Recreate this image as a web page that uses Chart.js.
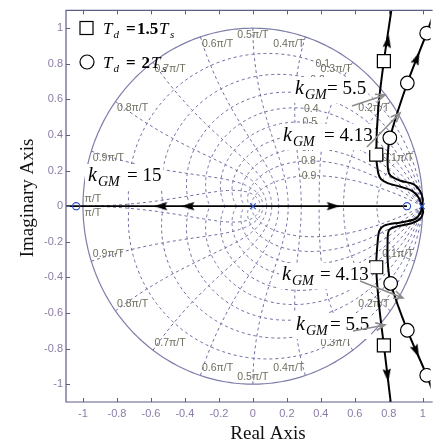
<!DOCTYPE html>
<html>
<head>
<meta charset="utf-8">
<script src="https://cdn.jsdelivr.net/npm/chart.js@4"></script>
<style>
  html, body { margin: 0; padding: 0; background: #ffffff; }
  #wrap { width: 441px; height: 442px; }
</style>
</head>
<body>
<div id="wrap"><canvas id="rl" width="441" height="442"></canvas></div>
<script>
// ---- axis ticks ----
const xTicks = [-1, -0.8, -0.6, -0.4, -0.2, 0, 0.2, 0.4, 0.6, 0.8, 1];
const xTickLabels = ['-1', '-0.8', '-0.6', '-0.4', '-0.2', '0', '0.2', '0.4', '0.6', '0.8', '1'];
const yTicks = [-1, -0.8, -0.6, -0.4, -0.2, 0, 0.2, 0.4, 0.6, 0.8, 1];
const yTickLabels = ['-1', '-0.8', '-0.6', '-0.4', '-0.2', '0', '0.2', '0.4', '0.6', '0.8', '1'];

// ---- z-plane grid: damping ratios and natural frequencies (multiples of pi/(10T)) ----
const dampingRatios = [0.1, 0.2, 0.3, 0.4, 0.5, 0.6, 0.7, 0.8, 0.9];
const dampingLabels = ['0.1', '0.2', '0.3', '0.4', '0.5', '0.6', '0.7', '0.8', '0.9'];
const naturalFreqSteps = [1, 2, 3, 4, 5, 6, 7, 8, 9, 10];
const naturalFreqLabels = ['0.1π/T', '0.2π/T', '0.3π/T', '0.4π/T', '0.5π/T', '0.6π/T', '0.7π/T', '0.8π/T', '0.9π/T', 'π/T'];

// ---- open-loop poles and zeros ----
const polesRe = [0, 0.995];
const polesIm = [0, 0];
const zerosRe = [0.907, -1.04];
const zerosIm = [0, 0];

// ---- real-axis branch ----
const realBranchRe = [-1.1, 0.907];
const realBranchIm = [0, 0];

// ---- Td = 1.5Ts branches ----
const sqUpperRe = [0.995, 0.975, 0.935, 0.869, 0.793, 0.754, 0.737, 0.726, 0.738, 0.771, 0.815];
const sqUpperIm = [0, 0.049, 0.087, 0.109, 0.130, 0.152, 0.189, 0.290, 0.550, 0.815, 1.100];
const sqLowerRe = [0.995, 0.987, 0.954, 0.869, 0.773, 0.745, 0.735, 0.726, 0.743, 0.771, 0.811];
const sqLowerIm = [0, -0.035, -0.072, -0.091, -0.109, -0.137, -0.193, -0.343, -0.560, -0.782, -1.100];
const sqMarkRe = [0.771, 0.726, 0.726, 0.771];
const sqMarkIm = [0.815, 0.290, -0.343, -0.782];

// ---- Td = 2Ts branches ----
const ciUpperRe = [0.995, 1.000, 0.983, 0.945, 0.869, 0.811, 0.795, 0.795, 0.806, 0.909, 1.023, 1.070];
const ciUpperIm = [0, 0.040, 0.087, 0.124, 0.143, 0.171, 0.208, 0.300, 0.384, 0.692, 0.972, 1.100];
const ciLowerRe = [0.995, 1.002, 0.983, 0.935, 0.850, 0.802, 0.793, 0.795, 0.811, 0.909, 1.023, 1.070];
const ciLowerIm = [0, -0.035, -0.072, -0.096, -0.113, -0.133, -0.193, -0.330, -0.434, -0.697, -0.950, -1.070];
const ciMarkRe = [1.023, 0.909, 0.806, 0.811, 0.909, 1.023];
const ciMarkIm = [0.972, 0.692, 0.384, -0.434, -0.697, -0.950];

// ---- direction arrows along the loci ----
const arrowRe = [0.794, 0.966, 0.792, 0.962, -0.543, -0.383, 0.474];
const arrowIm = [0.927, 0.832, -0.950, -0.815, 0, 0, 0];
const arrowAngles = [9, 22, 173, 156, 270, 270, 90];

// ---- gain-margin annotations ----
const kgmValues = ['15', '5.5', '4.13', '4.13', '5.5'];

const pts = (re, im) => re.map((v, i) => ({ x: v, y: im[i] }));

// arrowhead glyph used as a point style
const arrowGlyph = (() => {
  const c = document.createElement('canvas');
  c.width = 14; c.height = 14;
  const g = c.getContext('2d');
  g.fillStyle = '#000';
  g.beginPath();
  g.moveTo(7, 0.5);
  g.lineTo(11.2, 13.5);
  g.lineTo(7, 11.5);
  g.lineTo(2.8, 13.5);
  g.closePath();
  g.fill();
  return c;
})();

const SERIF = '"Liberation Serif", "Times New Roman", serif';
const SANS = '"Liberation Sans", Arial, sans-serif';
const GRID_COLOR = '#6c6ca2';
const CIRCLE_COLOR = '#7e7eaa';
const GRID_TEXT = '#6f6f5e';
const FRAME = '#5c5c88';
const TICK_TEXT = '#8a7ca6';

const zgridPlugin = {
  id: 'zgrid',
  beforeDatasetsDraw(chart) {
    const { ctx, chartArea: a, scales: { x: sx, y: sy } } = chart;
    const P = (re, im) => [sx.getPixelForValue(re), sy.getPixelForValue(im)];
    const path = list => {
      ctx.beginPath();
      list.forEach(([re, im], i) => {
        const [px, py] = P(re, im);
        if (i) ctx.lineTo(px, py); else ctx.moveTo(px, py);
      });
      ctx.stroke();
    };
    ctx.save();
    ctx.beginPath();
    ctx.rect(a.left, a.top, a.right - a.left, a.bottom - a.top);
    ctx.clip();

    ctx.strokeStyle = GRID_COLOR;
    ctx.lineWidth = 1;
    ctx.setLineDash([3, 3]);
    // constant damping ratio spirals
    dampingRatios.forEach(z => {
      const wd = Math.sqrt(1 - z * z);
      [1, -1].forEach(s => {
        const list = [];
        for (let i = 0; i <= 160; i++) {
          const th = Math.PI * i / 160;
          const r = Math.exp(-z * th / wd);
          list.push([r * Math.cos(th), s * r * Math.sin(th)]);
        }
        path(list);
      });
    });
    // constant natural frequency curves
    naturalFreqSteps.forEach(k => {
      const wn = k * Math.PI / 10;
      [1, -1].forEach(s => {
        const list = [];
        for (let i = 0; i <= 80; i++) {
          const phi = (Math.PI / 2) * i / 80;
          const z = Math.sin(phi);
          const r = Math.exp(-z * wn);
          const th = wn * Math.cos(phi);
          list.push([r * Math.cos(th), s * r * Math.sin(th)]);
        }
        path(list);
      });
    });

    // unit circle
    ctx.setLineDash([]);
    ctx.strokeStyle = CIRCLE_COLOR;
    ctx.lineWidth = 1.2;
    const circ = [];
    for (let i = 0; i <= 360; i++) {
      const th = 2 * Math.PI * i / 360;
      circ.push([Math.cos(th), Math.sin(th)]);
    }
    path(circ);

    // grid labels
    ctx.fillStyle = GRID_TEXT;
    ctx.font = '10.5px ' + SANS;
    ctx.textBaseline = 'middle';
    naturalFreqSteps.forEach((k, i) => {
      const th = k * Math.PI / 10;
      const [ux, uy] = P(Math.cos(th), Math.sin(th));
      const [lx, ly] = P(Math.cos(th), -Math.sin(th));
      let dx = 0;
      if (k < 5) { ctx.textAlign = 'right'; dx = -1; }
      else if (k === 5) { ctx.textAlign = 'center'; }
      else { ctx.textAlign = 'left'; dx = 1.5; }
      if (k === 10) {
        ctx.fillText(naturalFreqLabels[i], ux + dx, uy - 7);
        ctx.fillText(naturalFreqLabels[i], lx + dx, ly + 7);
      } else {
        ctx.fillText(naturalFreqLabels[i], ux + dx, uy + 7);
        ctx.fillText(naturalFreqLabels[i], lx + dx, ly - 7);
      }
    });
    ctx.textAlign = 'center';
    dampingRatios.forEach((z, i) => {
      const w = 0.35 * Math.PI;
      const r = Math.exp(-z * w);
      const th = w * Math.sqrt(1 - z * z);
      const [px, py] = P(r * Math.cos(th), r * Math.sin(th));
      ctx.fillText(dampingLabels[i], px, py);
    });
    ctx.restore();
  },

  afterDatasetsDraw(chart) {
    const { ctx } = chart;
    ctx.save();

    // legend
    ctx.strokeStyle = '#000';
    ctx.fillStyle = '#fff';
    ctx.lineWidth = 1.2;
    ctx.fillRect(80, 21.5, 13, 13);
    ctx.strokeRect(80, 21.5, 13, 13);
    ctx.beginPath();
    ctx.arc(87, 62, 7, 0, Math.PI * 2);
    ctx.fill();
    ctx.stroke();
    ctx.fillStyle = '#000';
    ctx.textBaseline = 'alphabetic';
    ctx.textAlign = 'left';
    const legendRow = (y, num, numX, tX) => {
      ctx.font = 'italic 17px ' + SERIF;
      ctx.fillText('T', 103, y);
      ctx.font = 'italic 11px ' + SERIF;
      ctx.fillText('d', 113.5, y + 4);
      ctx.font = 'bold 17px ' + SERIF;
      ctx.fillText('=', 126, y);
      ctx.fillText(num, numX, y);
      ctx.font = 'italic 17px ' + SERIF;
      ctx.fillText('T', tX, y);
      ctx.font = 'italic 11px ' + SERIF;
      ctx.fillText('s', tX + 11, y + 4);
    };
    legendRow(34, '1.5', 137, 159);
    legendRow(68, '2', 141.5, 151);

    // gain-margin labels on a white backing box
    const kgm = (x, y, val, eqX) => {
      ctx.font = '19px ' + SERIF;
      const txt = '= ' + val;
      const end = eqX + ctx.measureText(txt).width;
      ctx.fillStyle = '#fff';
      ctx.fillRect(x - 3, y - 17, end - x + 5, 26);
      ctx.fillStyle = '#000';
      ctx.fillText(txt, eqX, y);
      ctx.font = 'italic 20px ' + SERIF;
      ctx.fillText('k', x, y);
      ctx.font = 'italic 14px ' + SERIF;
      ctx.fillText('GM', x + 10, y + 5);
    };
    kgm(88, 181, kgmValues[0], 127);
    kgm(295, 94, kgmValues[1], 327);
    kgm(283, 141, kgmValues[2], 324);
    kgm(282, 280, kgmValues[3], 320);
    kgm(296, 330, kgmValues[4], 330);

    // pointer arrows
    const pointer = (x0, y0, x1, y1) => {
      ctx.strokeStyle = '#8c8c8c';
      ctx.lineWidth = 1.6;
      ctx.beginPath();
      ctx.moveTo(x0, y0);
      ctx.lineTo(x1, y1);
      const ang = Math.atan2(y1 - y0, x1 - x0);
      const h = 10;
      ctx.moveTo(x1 - h * Math.cos(ang - 0.4), y1 - h * Math.sin(ang - 0.4));
      ctx.lineTo(x1, y1);
      ctx.lineTo(x1 - h * Math.cos(ang + 0.4), y1 - h * Math.sin(ang + 0.4));
      ctx.stroke();
    };
    pointer(352, 106, 385, 95);
    pointer(367, 147, 400, 113);
    pointer(360, 281, 403, 298);
    pointer(353, 331, 385, 325);
    ctx.restore();
  },

  afterDraw(chart) {
    const { ctx, chartArea: a, scales: { x: sx, y: sy } } = chart;
    ctx.save();
    ctx.strokeStyle = FRAME;
    ctx.lineWidth = 1.2;
    ctx.beginPath();
    ctx.moveTo(a.right + 2, a.top);
    ctx.lineTo(a.left, a.top);
    ctx.lineTo(a.left, a.bottom);
    ctx.lineTo(a.right + 2, a.bottom);
    ctx.stroke();
    ctx.lineWidth = 1;
    ctx.beginPath();
    xTicks.forEach(v => {
      const px = Math.round(sx.getPixelForValue(v)) + 0.5;
      ctx.moveTo(px, a.bottom); ctx.lineTo(px, a.bottom - 4);
      ctx.moveTo(px, a.top); ctx.lineTo(px, a.top + 4);
    });
    yTicks.forEach(v => {
      const py = Math.round(sy.getPixelForValue(v)) + 0.5;
      ctx.moveTo(a.left, py); ctx.lineTo(a.left + 4, py);
    });
    ctx.stroke();

    // axis titles
    ctx.fillStyle = '#111';
    ctx.font = '19px ' + SERIF;
    ctx.textAlign = 'center';
    ctx.textBaseline = 'alphabetic';
    ctx.fillText('Real Axis', 268, 439);
    ctx.translate(33, 198);
    ctx.rotate(-Math.PI / 2);
    ctx.fillText('Imaginary Axis', 0, 0);
    ctx.restore();
  }
};

const lineDs = (re, im, w) => ({
  data: pts(re, im), showLine: true, borderColor: '#000', borderWidth: w,
  pointRadius: 0, tension: 0.3, fill: false, order: 6
});

new Chart(document.getElementById('rl'), {
  type: 'scatter',
  data: {
    datasets: [
      lineDs(realBranchRe, realBranchIm, 1.8),
      lineDs(sqUpperRe, sqUpperIm, 2),
      lineDs(sqLowerRe, sqLowerIm, 2),
      lineDs(ciUpperRe, ciUpperIm, 2),
      lineDs(ciLowerRe, ciLowerIm, 2),
      {
        data: pts(arrowRe, arrowIm), pointStyle: arrowGlyph, pointRadius: 7,
        pointRotation: arrowAngles, order: 3
      },
      {
        data: pts(sqMarkRe, sqMarkIm), pointStyle: 'rect', pointRadius: 9.2,
        backgroundColor: '#fff', borderColor: '#000', borderWidth: 1.2, order: 2
      },
      {
        data: pts(ciMarkRe, ciMarkIm), pointStyle: 'circle', pointRadius: 6.8,
        backgroundColor: '#fff', borderColor: '#000', borderWidth: 1.2, order: 2
      },
      {
        data: pts(polesRe, polesIm), pointStyle: 'crossRot', pointRadius: 4,
        borderColor: '#2a4fc8', borderWidth: 1.1, order: 1
      },
      {
        data: pts(zerosRe, zerosIm), pointStyle: 'circle', pointRadius: 3.6,
        backgroundColor: 'rgba(0,0,0,0)', borderColor: '#2a4fc8', borderWidth: 1.1, order: 1
      }
    ]
  },
  options: {
    responsive: false,
    animation: false,
    devicePixelRatio: 1,
    layout: { padding: { top: 9, right: 0, bottom: 0, left: 0 } },
    plugins: { legend: { display: false }, tooltip: { enabled: false } },
    scales: {
      x: {
        type: 'linear', min: -1.1, max: 1.046,
        afterBuildTicks: s => { s.ticks = xTicks.map(v => ({ value: v })); },
        afterFit: s => { s.height = 40; },
        grid: { display: false, drawTicks: false },
        border: { display: false },
        ticks: {
          callback: (v, i) => xTickLabels[i],
          color: TICK_TEXT, font: { family: SANS, size: 11 },
          padding: 5, maxRotation: 0, autoSkip: false
        }
      },
      y: {
        type: 'linear', min: -1.1, max: 1.1,
        afterBuildTicks: s => { s.ticks = yTicks.map(v => ({ value: v })); },
        afterFit: s => { s.width = 66; },
        grid: { display: false, drawTicks: false },
        border: { display: false },
        ticks: {
          callback: (v, i) => yTickLabels[i],
          color: TICK_TEXT, font: { family: SANS, size: 11 },
          padding: 3, autoSkip: false
        }
      }
    }
  },
  plugins: [zgridPlugin]
});
</script>
</body>
</html>
